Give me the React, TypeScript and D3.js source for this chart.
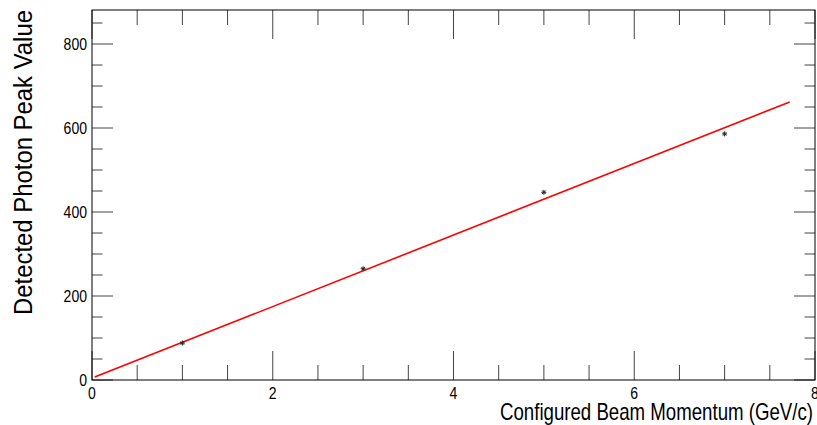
import React from "react";
import * as d3 from "d3";

const pointsX = [1, 3, 5, 7];
const pointsY = [88, 265, 447, 586];
const fitX = [0.03, 7.72];
const fitY = [7, 662];
const xMajorTicks = [0, 2, 4, 6, 8];
const yMajorTicks = [0, 200, 400, 600, 800];
const xTitle = "Configured Beam Momentum (GeV/c)";
const yTitle = "Detected Photon Peak Value";

const W = 817;
const H = 425;
const L = 92, R = 815, T = 10, B = 380;

export default function App() {
  const x = d3.scaleLinear().domain([0, 8]).range([L, R]);
  const y = d3.scaleLinear().domain([0, 881]).range([B, T]);
  const xMinor = d3.range(0, 8.001, 0.5).filter((v) => !xMajorTicks.includes(v));
  const yMinor = d3.range(0, 881, 50).filter((v) => !yMajorTicks.includes(v));
  const line = d3.line<number>().x((_, i) => x(fitX[i])).y((_, i) => y(fitY[i]));
  const font = "'Liberation Sans', Arial, Helvetica, sans-serif";
  const tickColor = "#444";
  const digitW = 7.8;

  return (
    <div style={{ position: "fixed", left: 0, top: 0 }}>
      <svg width={W} height={H} style={{ display: "block", background: "#fff" }}>
        {xMajorTicks.map((v) => (
          <g key={"xM" + v}>
            <line x1={x(v)} x2={x(v)} y1={B} y2={B - 29} stroke={tickColor} />
            <line x1={x(v)} x2={x(v)} y1={T} y2={T + 29} stroke={tickColor} />
          </g>
        ))}
        {xMinor.map((v) => (
          <g key={"xm" + v}>
            <line x1={x(v)} x2={x(v)} y1={B} y2={B - 15} stroke={tickColor} />
            <line x1={x(v)} x2={x(v)} y1={T} y2={T + 15} stroke={tickColor} />
          </g>
        ))}
        {yMajorTicks.map((v) => (
          <g key={"yM" + v}>
            <line x1={L} x2={L + 21} y1={y(v)} y2={y(v)} stroke={tickColor} />
            <line x1={R} x2={R - 21} y1={y(v)} y2={y(v)} stroke={tickColor} />
          </g>
        ))}
        {yMinor.map((v) => (
          <g key={"ym" + v}>
            <line x1={L} x2={L + 10.5} y1={y(v)} y2={y(v)} stroke={tickColor} />
            <line x1={R} x2={R - 10.5} y1={y(v)} y2={y(v)} stroke={tickColor} />
          </g>
        ))}
        <rect x={L} y={T} width={R - L} height={B - T} fill="none" stroke="#000" strokeWidth={1} />

        {xMajorTicks.map((v) => (
          <text key={"xl" + v} x={x(v)} y={398.5} textAnchor="middle" fontFamily={font} fontSize={16}
            textLength={String(v).length * digitW} lengthAdjust="spacingAndGlyphs" fill="#000">
            {v}
          </text>
        ))}
        {yMajorTicks.map((v) => (
          <text key={"yl" + v} x={87} y={y(v) + 6} textAnchor="end" fontFamily={font} fontSize={16}
            textLength={String(v).length * digitW} lengthAdjust="spacingAndGlyphs" fill="#000">
            {v}
          </text>
        ))}

        <text x={813} y={420} textAnchor="end" fontFamily={font} fontSize={24}
          textLength={313} lengthAdjust="spacingAndGlyphs" fill="#000">
          {xTitle}
        </text>
        <text
          transform={`translate(32, ${T}) rotate(-90)`}
          textAnchor="end"
          fontFamily={font}
          fontSize={26}
          textLength={305}
          lengthAdjust="spacingAndGlyphs"
          fill="#000"
        >
          {yTitle}
        </text>

        <path d={line(fitX) || ""} fill="none" stroke="#ff0000" strokeWidth={1.6} />

        {pointsX.map((px, i) => {
          const cx = x(px);
          const cy = y(pointsY[i]);
          const s = 2.5;
          return (
            <g key={"p" + i} stroke="#222" strokeWidth={1}>
              <line x1={cx - s} x2={cx + s} y1={cy} y2={cy} />
              <line x1={cx} x2={cx} y1={cy - s} y2={cy + s} />
              <line x1={cx - s * 0.7} x2={cx + s * 0.7} y1={cy - s * 0.7} y2={cy + s * 0.7} />
              <line x1={cx - s * 0.7} x2={cx + s * 0.7} y1={cy + s * 0.7} y2={cy - s * 0.7} />
            </g>
          );
        })}
      </svg>
    </div>
  );
}
